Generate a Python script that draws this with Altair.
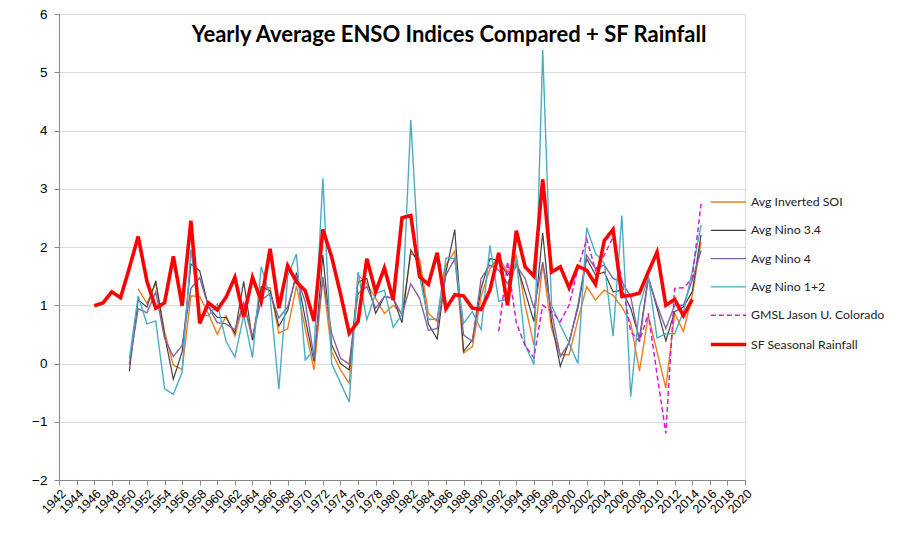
import altair as alt
import pandas as pd

# ---------------- data ----------------
series_names = ["Avg Inverted SOI", "Avg Nino 3.4", "Avg Nino 4", "Avg Nino 1+2",
                "GMSL Jason U. Colorado", "SF Seasonal Rainfall"]

soi_years = list(range(1951, 2016))
soi = [1.28, 1.03, 1.38, 0.55, -0.03, -0.10, 1.16, 1.15, 0.85, 0.50,
       0.82, 0.47, 1.04, 0.40, 1.30, 1.30, 0.52, 0.60, 1.33, 0.60,
       -0.11, 1.46, 0.20, -0.11, -0.34, 1.52, 1.37, 1.12, 0.86, 1.00,
       0.86, 1.89, 1.80, 0.86, 0.72, 1.69, 1.93, 0.18, 0.29, 1.15,
       1.63, 1.83, 1.57, 1.85, 1.00, 0.32, 1.72, 0.60, 0.15, 0.15,
       0.75, 1.32, 1.09, 1.26, 1.17, 0.97, 0.70, -0.13, 0.82, 0.20,
       -0.42, 0.86, 0.55, 1.17, 2.09]

nino_years = list(range(1950, 2016))
nino34 = [-0.13, 1.09, 0.97, 1.42, 0.49, -0.27, 0.20, 1.71, 1.59, 0.97,
          0.79, 0.79, 0.52, 1.41, 0.40, 1.32, 1.25, 0.64, 0.91, 1.56,
          0.77, 0.03, 1.86, 0.32, 0.00, -0.11, 1.40, 1.46, 0.86, 1.15,
          1.12, 0.70, 1.95, 1.69, 0.68, 0.42, 1.57, 2.30, 0.21, 0.40,
          1.29, 1.80, 1.77, 1.52, 1.72, 1.23, 0.72, 2.24, 0.72, -0.05,
          0.38, 0.95, 1.80, 1.52, 1.57, 1.23, 1.26, 0.95, 0.43, 1.49,
          0.95, 0.39, 0.89, 0.97, 1.23, 2.21]
nino4 = [-0.01, 0.94, 0.87, 1.23, 0.43, 0.12, 0.31, 1.29, 1.47, 0.97,
         0.70, 0.68, 0.58, 1.04, 0.46, 1.09, 1.20, 0.78, 0.97, 1.50,
         1.06, 0.09, 1.49, 0.52, 0.09, -0.01, 1.20, 1.32, 0.95, 1.15,
         1.12, 0.83, 1.37, 1.12, 0.57, 0.60, 1.52, 1.80, 0.49, 0.38,
         1.46, 1.69, 1.60, 1.37, 1.68, 1.46, 0.95, 1.74, 0.89, 0.12,
         0.35, 1.00, 1.86, 1.63, 1.69, 1.46, 1.40, 1.15, 0.38, 1.46,
         1.00, 0.60, 1.00, 1.00, 1.43, 1.94]
nino12 = [0.08, 1.16, 0.68, 0.73, -0.43, -0.53, -0.15, 1.96, 0.84, 0.82,
          1.02, 0.38, 0.11, 0.83, 0.10, 1.66, 1.15, -0.44, 1.50, 1.88,
          0.06, 0.23, 3.18, 0.00, -0.33, -0.66, 1.57, 0.75, 1.20, 1.26,
          0.62, 0.84, 4.18, 1.50, 0.76, 0.76, 1.81, 1.80, 0.69, 0.89,
          0.58, 2.03, 1.07, 1.10, 1.80, 0.32, -0.02, 5.38, 1.00, 0.66,
          0.35, 0.00, 2.33, 1.89, 1.72, 0.47, 2.54, -0.57, 0.97, 1.50,
          0.44, 0.51, 0.51, 0.89, 1.58, 2.38]

gmsl_years = list(range(1992, 2016))
gmsl = [0.55, 1.75, 0.70, 0.30, 0.10, 1.00, 0.90, 0.72, 1.00, 1.63,
        2.14, 1.60, 1.86, 2.17, 1.43, 0.55, 0.38, 0.86, -0.19, -1.20,
        1.29, 1.30, 1.46, 2.74]

rain_years = list(range(1946, 2015))
rain = [0.99, 1.04, 1.23, 1.13,
        1.64, 2.18, 1.41, 0.95, 1.04, 1.84, 0.99, 2.45, 0.69, 1.04,
        0.92, 1.14, 1.48, 0.80, 1.48, 1.07, 1.97, 0.95, 1.68, 1.40,
        1.25, 0.73, 2.30, 1.83, 1.20, 0.52, 0.72, 1.80, 1.23, 1.64,
        1.09, 2.50, 2.54, 1.49, 1.36, 1.90, 0.94, 1.18, 1.16, 0.95,
        0.93, 1.26, 1.90, 1.00, 2.28, 1.66, 1.50, 3.16, 1.57, 1.66,
        1.30, 1.67, 1.60, 1.36, 2.11, 2.30, 1.15, 1.17, 1.21, 1.57,
        1.91, 1.00, 1.10, 0.82, 1.10]

x_tick_years = list(range(1942, 2021, 2))
y_tick_values = list(range(-2, 7))

# ---------------- table ----------------
rows = []
for name, yrs, vals in [
    (series_names[0], soi_years, soi),
    (series_names[1], nino_years, nino34),
    (series_names[2], nino_years, nino4),
    (series_names[3], nino_years, nino12),
    (series_names[4], gmsl_years, gmsl),
    (series_names[5], rain_years, rain),
]:
    for yr, v in zip(yrs, vals):
        rows.append({"series": name, "year": yr, "value": v})
df = pd.DataFrame(rows)

colors = ["#F07C1E", "#404040", "#8064A2", "#4BACC6", "#D21ED2", "#FF0000"]
dashes = [[1, 0], [1, 0], [1, 0], [1, 0], [5, 3], [1, 0]]
widths = [1.4, 1.2, 1.4, 1.4, 1.5, 3.6]

FONT = "Lato"

chart = alt.Chart(df).mark_line().encode(
    x=alt.X("year:Q",
            scale=alt.Scale(domain=[1942, 2020], nice=False, zero=False),
            axis=alt.Axis(values=x_tick_years, format="d", labelAngle=-45,
                          grid=False, title=None, tickSize=5,
                          labelFontSize=12.5, labelPadding=2,
                          labelOverlap=False, labelBound=False)),
    y=alt.Y("value:Q",
            scale=alt.Scale(domain=[-2, 6], nice=False, zero=False),
            axis=alt.Axis(values=y_tick_values, grid=True, title=None,
                          tickSize=5, labelPadding=7, labelFontSize=13.5)),
    color=alt.Color("series:N",
                    scale=alt.Scale(domain=series_names, range=colors),
                    legend=alt.Legend(title=None, orient="none",
                                      legendX=650, legendY=169.5,
                                      symbolType="stroke", symbolSize=1250,
                                      labelFont=FONT, labelFontSize=12.3,
                                      labelColor="#222222", labelOffset=3,
                                      labelLimit=300,
                                      rowPadding=3.3)),
    strokeDash=alt.StrokeDash("series:N",
                              scale=alt.Scale(domain=series_names, range=dashes),
                              legend=None),
    strokeWidth=alt.StrokeWidth("series:N",
                                scale=alt.Scale(type="ordinal",
                                                domain=series_names, range=widths),
                                legend=None),
    detail="series:N",
    order=alt.Order("year:Q"),
).properties(
    width=686,
    height=466,
    autosize=alt.AutoSizeParams(type="none"),
    padding={"left": 51, "top": 6, "right": 146, "bottom": 56},
    title=alt.TitleParams("Yearly Average ENSO Indices Compared + SF Rainfall",
                          font=FONT, fontSize=22, fontWeight="bold",
                          color="#000000", anchor="middle", dx=47, dy=61,
                          baseline="alphabetic"),
).configure_view(
    stroke=None
).configure_axis(
    labelFont=FONT, labelColor="#222222",
    domainColor="#868686", tickColor="#868686", gridColor="#929292",
    domainWidth=1, gridWidth=1
).configure(background="white")

chart.save("out.html", embed_options={"renderer": "svg", "actions": False})
